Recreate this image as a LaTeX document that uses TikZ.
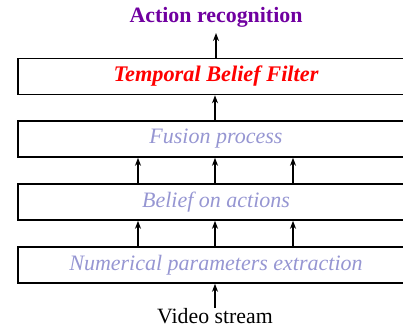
\documentclass[tikz,border=0pt]{standalone}
\usepackage{fontspec}
\setmainfont{Liberation Serif}
\usetikzlibrary{arrows.meta}
\definecolor{actpurple}{RGB}{112,0,160}
\definecolor{softblue}{RGB}{150,150,210}
\begin{document}
\begin{tikzpicture}[x=1pt,y=-1pt,
  layer/.style={draw=black,line width=1.6pt,minimum width=396pt,minimum height=36pt,inner sep=0pt,font=\fontsize{22}{26}\selectfont\itshape},
  soft/.style={text=softblue},
  flow/.style={line width=1.6pt,-{Stealth[length=8pt,width=6pt]}}]
\useasboundingbox (0,0) rectangle (403,328);
\clip (0,0) rectangle (403,328);
\node[layer,text=red,font=\fontsize{22.3}{26}\selectfont\bfseries\itshape] (b1) at (216,76.5) {Temporal Belief Filter};
\node[layer,soft] (b2) at (216,139) {Fusion process};
\node[layer,soft] (b3) at (216,202) {Belief on actions};
\node[layer,soft] (b4) at (216,265) {Numerical parameters extraction};
\node[text=actpurple,font=\fontsize{21.9}{26}\selectfont\bfseries,inner sep=0pt] (act) at (216,17) {Action recognition};
\node[font=\fontsize{21.8}{26}\selectfont,inner sep=0pt] (vid) at (215,316.5) {Video stream};
\coordinate (vs) at (215,308);
\coordinate (at) at (216,33);
\draw[flow] (vs) -- (b4.south -| vs);
\foreach \dx in {-78,-1,77}{
  \draw[flow] ([xshift=\dx pt]b4.north) -- ([xshift=\dx pt]b3.south);
  \draw[flow] ([xshift=\dx pt]b3.north) -- ([xshift=\dx pt]b2.south);
}
\draw[flow] ([xshift=-1pt]b2.north) -- ([xshift=-1pt]b1.south);
\draw[flow] (b1.north) -- (at);
\end{tikzpicture}
\end{document}
